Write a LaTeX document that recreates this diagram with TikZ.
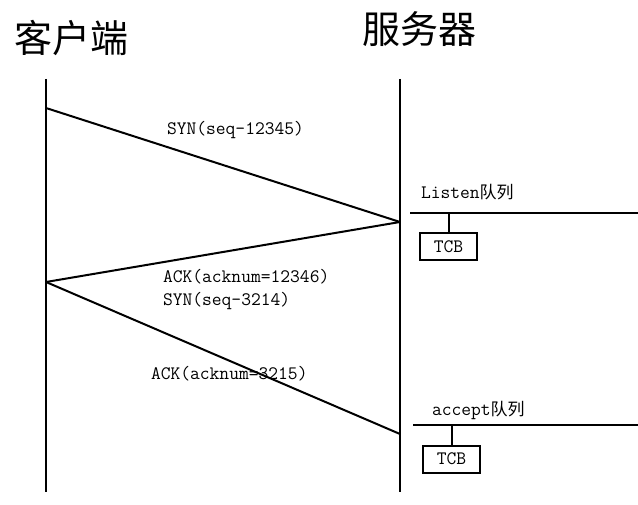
\documentclass[tikz,border=0pt]{standalone}
\usepackage{fontspec}
\newfontfamily\cjk{Noto Sans CJK SC}
\usetikzlibrary{calc}
\tikzset{>=latex}
\tikzset{
	msgtext/.style={font=\ttfamily\fontsize{19}{21}\selectfont, inner sep=0pt, anchor=west, align=left},
	titletext/.style={font=\cjk\fontsize{38}{40}\selectfont, inner sep=0pt},
	tcbbox/.style={draw, line width=2pt, minimum width=57pt, minimum height=27pt, inner sep=0pt, font=\ttfamily\fontsize{19}{21}\selectfont}
}

\begin{document}
\begin{tikzpicture}[x=1pt,y=-1pt,line width=2pt]
			\useasboundingbox (0,0) rectangle (638,505);
			% time lines
			\coordinate (Ctop) at (46,79);
			\coordinate (Cbot) at (46,492);
			\coordinate (Stop) at (400,79);
			\coordinate (Sbot) at (400,492);
			\node[titletext] (client) at (72,38) {客户端};
			\node[titletext] (server) at (419,29) {服务器};
			\draw (Ctop)--(Cbot);
			\draw (Stop)--(Sbot);
			
			% handshake
			\coordinate (C1) at (46,108);
			\coordinate (S1) at (400,222);
			\coordinate (C2) at (46,282);
			\coordinate (S2) at (400,434);
			\draw (C1)--(S1);
			\draw (S1)--(C2);
			\draw (C2)--(S2);
			\node[msgtext] (syn1) at (166,130) {SYN(seq-12345)};
			\node[msgtext] (ack1) at (162,277) {ACK(acknum=12346)};
			\node[msgtext] (syn2) at (162,301) {SYN(seq-3214)};
			\node[msgtext] (ack2) at (150,374) {ACK(acknum=3215)};
			
			% listen queue
			\coordinate (L1) at (410,213);
			\coordinate (L2) at (638,213);
			\draw (L1)--(L2);
			\node[msgtext] (listen) at (420,192) {Listen{\cjk\fontsize{17}{19}\selectfont 队列}};
			\node[tcbbox] (tcb1) at (448.5,246.5) {TCB};
			\draw (tcb1.north)--(tcb1.north|-L1);
			
			% accept queue
			\coordinate (A1) at (413,425);
			\coordinate (A2) at (638,425);
			\draw (A1)--(A2);
			\node[msgtext] (accept) at (431,410) {accept{\cjk\fontsize{17}{19}\selectfont 队列}};
			\node[tcbbox] (tcb2) at (451.5,459) {TCB};
			\draw (tcb2.north)--(tcb2.north|-A1);
		\end{tikzpicture}
\end{document}
